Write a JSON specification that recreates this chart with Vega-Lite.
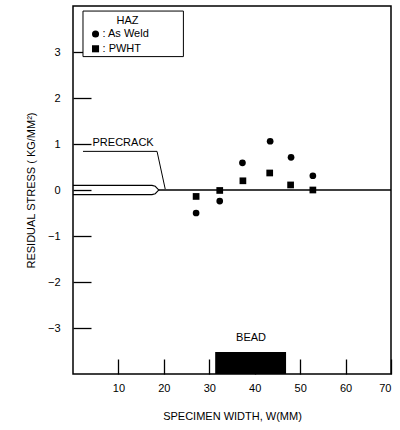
{
  "$schema": "https://vega.github.io/schema/vega-lite/v6.json",
  "width": 318,
  "height": 368,
  "autosize": {"type": "none"},
  "padding": {"left": 73, "top": 6, "right": 9, "bottom": 56},
  "background": "white",
  "config": {
    "font": "Liberation Sans",
    "view": {"stroke": "black", "strokeWidth": 1.5},
    "axis": {
      "domain": false,
      "grid": false,
      "tickColor": "black",
      "tickWidth": 1.3,
      "labelColor": "black",
      "titleColor": "black",
      "labelFontSize": 11,
      "titleFontSize": 11,
      "titleFontWeight": "normal"
    }
  },
  "datasets": {
    "points": [
      {"x": 27.1, "y": -0.5, "series": "As Weld"},
      {"x": 32.3, "y": -0.24, "series": "As Weld"},
      {"x": 37.3, "y": 0.59, "series": "As Weld"},
      {"x": 43.4, "y": 1.06, "series": "As Weld"},
      {"x": 48.0, "y": 0.71, "series": "As Weld"},
      {"x": 52.8, "y": 0.31, "series": "As Weld"},
      {"x": 27.1, "y": -0.14, "series": "PWHT"},
      {"x": 32.3, "y": -0.01, "series": "PWHT"},
      {"x": 37.4, "y": 0.2, "series": "PWHT"},
      {"x": 43.3, "y": 0.37, "series": "PWHT"},
      {"x": 47.9, "y": 0.11, "series": "PWHT"},
      {"x": 52.8, "y": 0.0, "series": "PWHT"}
    ],
    "legendKeys": [
      {"x": 4.96, "y": 3.39, "series": "As Weld", "label": ": As Weld"},
      {"x": 4.96, "y": 3.07, "series": "PWHT", "label": ": PWHT"}
    ],
    "legendBox": [{"x": 2.2, "x2": 24.3, "y": 2.9, "y2": 3.89}],
    "legendTitle": [{"x": 12.0, "y": 3.67, "label": "HAZ"}],
    "slot": [
      {"x": 0, "y": 0.1, "o": 1},
      {"x": 17.4, "y": 0.1, "o": 2},
      {"x": 18.1, "y": 0.08, "o": 3},
      {"x": 18.7, "y": 0.02, "o": 4},
      {"x": 18.9, "y": 0, "o": 5},
      {"x": 18.7, "y": -0.02, "o": 6},
      {"x": 18.1, "y": -0.08, "o": 7},
      {"x": 17.4, "y": -0.1, "o": 8},
      {"x": 0, "y": -0.1, "o": 9}
    ],
    "leader": [
      {"x": 2.2, "y": 0.84, "o": 1},
      {"x": 18.5, "y": 0.84, "o": 2},
      {"x": 20.3, "y": 0.02, "o": 3}
    ],
    "zero": [{"x": 18.9, "x2": 70, "y": 0}],
    "bead": [{"x": 31.3, "x2": 46.9, "y": -4, "y2": -3.52}],
    "labels": [
      {"x": 4.3, "y": 1.02, "label": "PRECRACK", "align": "left"},
      {"x": 39.2, "y": -3.22, "label": "BEAD", "align": "center"}
    ]
  },
  "encoding": {
    "x": {
      "field": "x",
      "type": "quantitative",
      "scale": {"domain": [0, 70], "nice": false, "zero": false},
      "axis": {
        "values": [10, 20, 30, 40, 50, 60, 70],
        "tickSize": -15,
        "labelPadding": 23,
        "title": "SPECIMEN WIDTH, W(MM)",
        "titleY": 42,
        "titleBaseline": "middle"
      }
    },
    "y": {
      "field": "y",
      "type": "quantitative",
      "scale": {"domain": [-4, 4], "nice": false, "zero": false},
      "axis": {
        "values": [-3, -2, -1, 0, 1, 2, 3],
        "tickSize": -18,
        "labelPadding": 31,
        "labelExpr": "datum.value < 0 ? '−' + abs(datum.value) : datum.label",
        "title": "RESIDUAL STRESS  ( KG/MM²)",
        "titleX": -42,
        "titleBaseline": "middle"
      }
    }
  },
  "layer": [
    {
      "data": {"name": "slot"},
      "mark": {"type": "line", "color": "black", "strokeWidth": 1.1},
      "encoding": {"order": {"field": "o", "type": "quantitative"}}
    },
    {
      "data": {"name": "leader"},
      "mark": {"type": "line", "color": "black", "strokeWidth": 1},
      "encoding": {"order": {"field": "o", "type": "quantitative"}}
    },
    {
      "data": {"name": "zero"},
      "mark": {"type": "rule", "color": "black", "strokeWidth": 1.3},
      "encoding": {"x2": {"field": "x2"}}
    },
    {
      "data": {"name": "bead"},
      "mark": {"type": "rect", "color": "black"},
      "encoding": {"x2": {"field": "x2"}, "y2": {"field": "y2"}}
    },
    {
      "data": {"name": "labels"},
      "transform": [{"filter": "datum.align == 'left'"}],
      "mark": {"type": "text", "align": "left", "baseline": "middle", "fontSize": 11, "color": "black"},
      "encoding": {"text": {"field": "label"}}
    },
    {
      "data": {"name": "labels"},
      "transform": [{"filter": "datum.align == 'center'"}],
      "mark": {"type": "text", "align": "center", "baseline": "middle", "fontSize": 11, "color": "black"},
      "encoding": {"text": {"field": "label"}}
    },
    {
      "data": {"name": "legendBox"},
      "mark": {"type": "rect", "fill": "white", "stroke": "black", "strokeWidth": 1},
      "encoding": {"x2": {"field": "x2"}, "y2": {"field": "y2"}}
    },
    {
      "data": {"name": "legendTitle"},
      "mark": {"type": "text", "align": "center", "baseline": "middle", "fontSize": 11, "color": "black"},
      "encoding": {"text": {"field": "label"}}
    },
    {
      "data": {"name": "legendKeys"},
      "mark": {"type": "text", "align": "left", "baseline": "middle", "dx": 7, "fontSize": 11, "color": "black"},
      "encoding": {"text": {"field": "label"}}
    },
    {
      "data": {"name": "legendKeys"},
      "mark": {"type": "point", "filled": true, "color": "black", "size": 50, "opacity": 1},
      "encoding": {
        "shape": {
          "field": "series",
          "type": "nominal",
          "scale": {"domain": ["As Weld", "PWHT"], "range": ["circle", "square"]},
          "legend": null
        }
      }
    },
    {
      "data": {"name": "points"},
      "mark": {"type": "point", "filled": true, "color": "black", "size": 45, "opacity": 1},
      "encoding": {
        "shape": {
          "field": "series",
          "type": "nominal",
          "scale": {"domain": ["As Weld", "PWHT"], "range": ["circle", "square"]},
          "legend": null
        }
      }
    }
  ]
}
